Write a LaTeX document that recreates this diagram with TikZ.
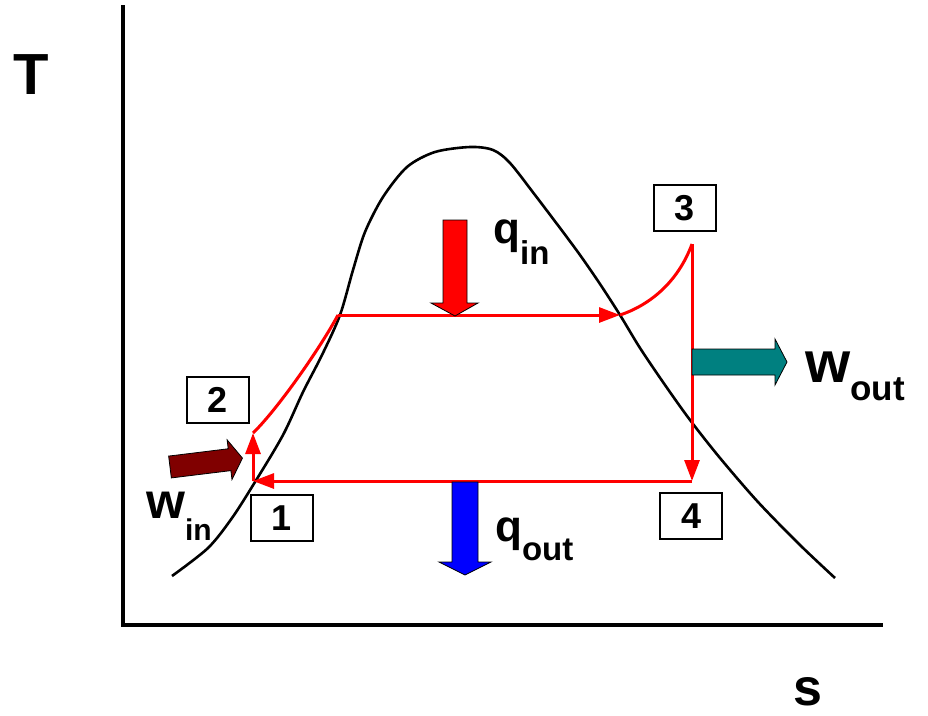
\documentclass[tikz,border=0pt]{standalone}
\usepackage{fontspec}
\setmainfont{Liberation Sans}
\usetikzlibrary{arrows.meta,positioning,calc}
\definecolor{CycleRed}{HTML}{FF0000}
\definecolor{HeatBlue}{HTML}{0000FF}
\definecolor{WorkTeal}{HTML}{008080}
\definecolor{WorkMaroon}{HTML}{800000}
\newcommand{\bigsub}[5]{{\fontsize{#1}{#1}\selectfont #2}\raisebox{-#5pt}{\fontsize{#3}{#3}\selectfont #4}}

\begin{document}
\begin{tikzpicture}[x=1pt,y=-1pt,
    statebox/.style={draw,line width=1.6pt,minimum width=62pt,minimum height=46pt,
      inner sep=0pt,font=\fontsize{36}{36}\selectfont\bfseries},
    symlabel/.style={anchor=base west,inner sep=0pt,font=\bfseries},
    axislabel/.style={inner sep=0pt,font=\fontsize{#1}{#1}\selectfont\bfseries},
    cyc/.style={CycleRed,line width=3pt},
    cyctip/.style={-{Triangle[length=21pt,width=15pt]}},
    blockarrow/.style={draw=black,line width=0.8pt,line join=miter}]
  \useasboundingbox (0,0) rectangle (928,715);

  % axes
  \coordinate (ytop) at (123,5);
  \coordinate (origin) at (123,625);
  \coordinate (xend) at (883,625);
  \draw[line width=3.5pt] (ytop) -- (origin) -- (xend);
  \node[axislabel=58] (Tlabel) at (31,75) {T};
  \node[axislabel=52] (slabel) at (808,692) {s};

  % saturation dome
  \draw[line width=2.6pt] plot[smooth,tension=0.5] coordinates {
    (172,576) (208,548) (232,518) (255,482) (283,435) (303,392) (322,355)
    (340,315) (353,270) (365,232) (383,197) (407,167) (435,152) (470,147)
    (493,150) (510,163) (535,195) (560,228) (580,255) (600,284) (620,315)
    (640,348) (665,385) (690,420) (720,458) (758,502) (800,545) (835,578)};

  % cycle states
  \coordinate (p1) at (253,481);
  \coordinate (p2) at (253,433);
  \coordinate (pf) at (338,315);
  \coordinate (pg) at (620,315);
  \coordinate (p3) at (692,244);
  \coordinate (p4) at (692,481);

  \draw[cyc,cyctip] (p1) -- (p2);
  \draw[cyc] (p2) .. controls (275,412) and (318,352) .. (pf);
  \draw[cyc,cyctip] (pf) -- (pg);
  \draw[cyc] (pg) .. controls (650,305) and (678,282) .. (p3);
  \draw[cyc,cyctip] (p3) -- (p4);
  \draw[cyc,cyctip] (p4) -- (p1);

  \node[statebox] (box1) at (282,518) {1};
  \node[statebox] (box2) at (218,400) {2};
  \node[statebox] (box3) at (685,208) {3};
  \node[statebox] (box4) at (691,516) {4};

  % heat and work arrows
  \draw[blockarrow,fill=CycleRed] (443,220) -- (467,220) -- (467,303) -- (478,303)
    -- (455,316) -- (431,303) -- (443,303) -- cycle;
  \draw[blockarrow,fill=HeatBlue] (452,482) -- (478,482) -- (478,562) -- (491,562)
    -- (465,575) -- (439,562) -- (452,562) -- cycle;
  \draw[blockarrow,fill=WorkTeal] (692,349) -- (775,349) -- (775,339) -- (787,362)
    -- (775,385) -- (775,375) -- (692,375) -- cycle;
  \begin{scope}[shift={(170,467)},rotate=7]
    \draw[blockarrow,fill=WorkMaroon] (0,-11) -- (60,-11) -- (60,-20) -- (73,0)
      -- (60,20) -- (60,11) -- (0,11) -- cycle;
  \end{scope}

  \node[symlabel] (qin) at (493,243) {\bigsub{44}{q}{33}{in}{21}};
  \node[symlabel] (qout) at (495,541) {\bigsub{44}{q}{33}{out}{19}};
  \node[symlabel] (wout) at (805,382) {\bigsub{58}{w}{35}{out}{18}};
  \node[symlabel] (win) at (146,518) {\bigsub{50}{w}{30}{in}{22}};
\end{tikzpicture}
\end{document}
